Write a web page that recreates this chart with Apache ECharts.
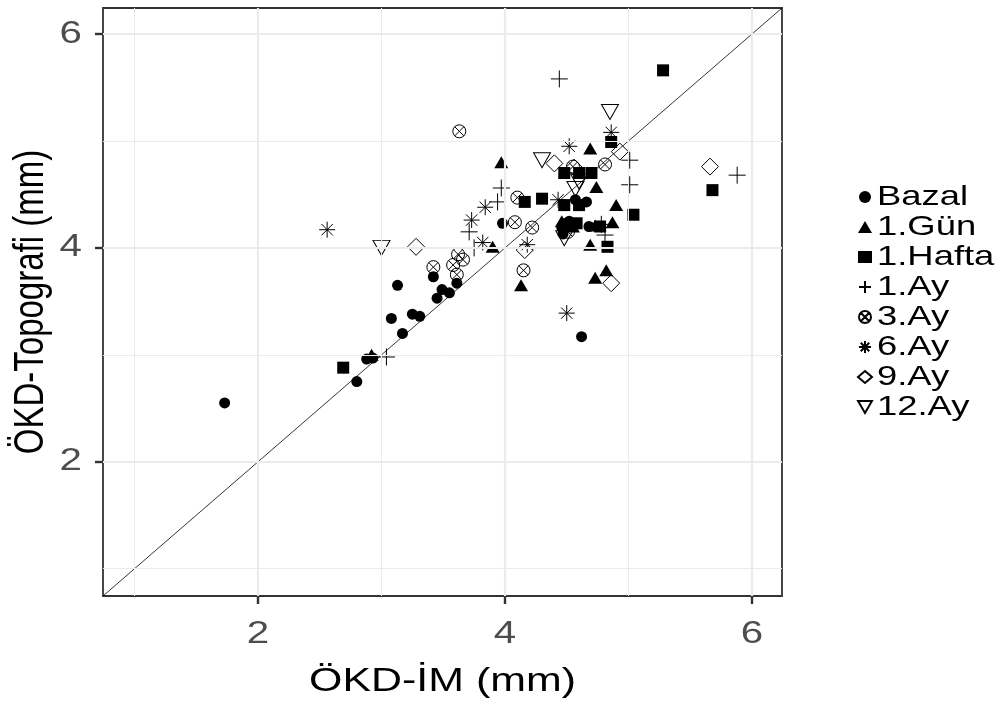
<!DOCTYPE html>
<html>
<head>
<meta charset="utf-8">
<script src="https://cdn.jsdelivr.net/npm/echarts@6/dist/echarts.min.js"></script>
<style>html,body{margin:0;padding:0;background:#fff;}#c{width:1003px;height:707px;}</style>
</head>
<body>
<div id="c"></div>
<script>
// Axis settings
const axisMin = 0.745;
const axisMax = 6.243;
const majorTicks = [2, 4, 6];
const minorTicks = [1, 3, 5];

// Series names
const groupNames = ['Bazal', '1.Gün', '1.Hafta', '1.Ay', '3.Ay', '6.Ay', '9.Ay', '12.Ay'];

// Data (x = ÖKD-İM, y = ÖKD-Topografi)
const bazalX = [1.73, 2.80, 2.88, 2.93, 3.08, 3.13, 3.17, 3.25, 3.31, 3.42, 3.45, 3.49, 3.55, 3.61, 3.98, 4.46, 4.47, 4.57, 4.66, 4.62, 4.52, 4.68];
const bazalY = [2.55, 2.75, 2.96, 2.97, 3.34, 3.65, 3.20, 3.38, 3.36, 3.73, 3.53, 3.61, 3.58, 3.67, 4.23, 4.19, 4.13, 4.45, 4.43, 3.17, 4.25, 4.20];

const gunX = [2.92, 3.90, 3.97, 4.13, 4.46, 4.69, 4.74, 4.90, 4.87, 4.73, 4.69, 4.82, 4.73, 4.55];
const gunY = [3.00, 4.01, 4.80, 3.65, 4.25, 4.93, 4.57, 4.40, 4.24, 4.21, 4.03, 3.79, 3.72, 4.20];

const haftaX = [2.69, 4.16, 4.30, 4.48, 4.60, 4.70, 4.86, 5.28, 5.68, 5.04, 4.48, 4.60, 4.58, 4.77, 4.83, 4.50];
const haftaY = [2.88, 4.43, 4.46, 4.70, 4.70, 4.70, 4.99, 5.66, 4.54, 4.31, 4.40, 4.40, 4.23, 4.20, 4.01, 4.22];

const ay1X = [3.04, 3.71, 3.75, 3.94, 3.97, 4.44, 5.01, 5.01, 4.81, 5.88, 4.78];
const ay1Y = [2.98, 4.15, 4.00, 4.43, 4.56, 5.58, 4.82, 4.59, 4.12, 4.68, 4.22];

const ay3X = [3.63, 3.42, 3.62, 3.66, 3.58, 3.61, 4.10, 4.08, 4.22, 4.15, 4.81, 4.55, 4.51];
const ay3Y = [5.09, 3.82, 3.94, 3.89, 3.84, 3.75, 4.47, 4.24, 4.19, 3.79, 4.78, 4.76, 4.15];

const ay6X = [2.56, 3.73, 3.84, 3.82, 4.18, 4.43, 4.52, 4.86, 4.50];
const ay6Y = [4.17, 4.26, 4.38, 4.05, 4.03, 4.45, 4.95, 5.08, 3.39];

const ay9X = [3.28, 4.16, 4.40, 4.93, 4.86, 5.66, 4.56];
const ay9Y = [4.01, 3.98, 4.79, 4.90, 3.67, 4.76, 4.75];

const ay12X = [3.00, 4.30, 4.57, 4.48, 4.85, 4.60];
const ay12Y = [4.00, 4.82, 4.55, 4.09, 5.27, 4.62];

const groupX = [bazalX, gunX, haftaX, ay1X, ay3X, ay6X, ay9X, ay12X];
const groupY = [bazalY, gunY, haftaY, ay1Y, ay3Y, ay6Y, ay9Y, ay12Y];

// Marker styles
const PLUS = 'path://M0,5L10,5M5,0L5,10';
const ASTER = 'path://M0,5L10,5M5,0L5,10M1.46,1.46L8.54,8.54M8.54,1.46L1.46,8.54';
const OTIMES = 'path://M10,5A5,5,0,1,1,0,5A5,5,0,1,1,10,5ZM1.46,1.46L8.54,8.54M8.54,1.46L1.46,8.54';
const TRIDOWN = 'path://M0,0L10,0L5,8.66Z';
const filled = { color: '#000', borderWidth: 0, opacity: 1 };
const hollow = { color: 'rgba(0,0,0,0)', borderColor: '#000', borderWidth: 1, opacity: 1 };
const markerDefs = [
  { symbol: 'circle', size: 11, style: filled },
  { symbol: 'triangle', size: [14, 12], style: filled },
  { symbol: 'rect', size: 12, style: filled },
  { symbol: PLUS, size: 17, style: hollow },
  { symbol: OTIMES, size: 13, style: hollow },
  { symbol: ASTER, size: 16, style: hollow },
  { symbol: 'diamond', size: 17, style: hollow },
  { symbol: TRIDOWN, size: [17, 15], style: hollow }
];

const FONT = "'Liberation Sans', Arial, sans-serif";
const TEXT_STRETCH = 1.3; // the reference text is horizontally wide

const series = [];
series.push({
  name: '_grid', type: 'line', data: [], silent: true, z: 1,
  markLine: {
    silent: true, symbol: ['none', 'none'], label: { show: false }, animation: false,
    data: [
      ...minorTicks.map(v => ({ xAxis: v, lineStyle: { color: '#ebebeb', width: 1, type: 'solid' } })),
      ...minorTicks.map(v => ({ yAxis: v, lineStyle: { color: '#ebebeb', width: 1, type: 'solid' } })),
      ...majorTicks.map(v => ({ xAxis: v, lineStyle: { color: '#ebebeb', width: 2.2, type: 'solid' } })),
      ...majorTicks.map(v => ({ yAxis: v, lineStyle: { color: '#ebebeb', width: 2.2, type: 'solid' } }))
    ]
  }
});
series.push({
  name: '_diag', type: 'line', z: 2, silent: true, symbol: 'none',
  data: [[axisMin, axisMin], [axisMax, axisMax]],
  lineStyle: { color: '#000', width: 0.8 }
});
groupNames.forEach((n, i) => {
  const m = markerDefs[i];
  series.push({
    name: n, type: 'scatter', z: 3,
    symbol: m.symbol, symbolSize: m.size,
    itemStyle: m.style,
    emphasis: { disabled: true },
    data: groupX[i].map((x, k) => [x, groupY[i][k]])
  });
});

const chart = echarts.init(document.getElementById('c'), null, { renderer: 'canvas' });
chart.setOption({
  animation: false,
  backgroundColor: '#fff',
  grid: { left: 103, top: 8, right: 221, bottom: 111, show: true, borderColor: '#333333', borderWidth: 1.8, backgroundColor: 'transparent' },
  xAxis: {
    type: 'value', min: axisMin, max: axisMax,
    name: 'ÖKD-İM (mm)', nameLocation: 'middle', nameGap: 86,
    nameTextStyle: { fontFamily: FONT, fontSize: 33, color: '#000', verticalAlign: 'middle' },
    axisLine: { show: false },
    axisTick: { show: true, customValues: majorTicks, length: 8, lineStyle: { color: '#333333', width: 2.4 } },
    axisLabel: { customValues: majorTicks, fontFamily: FONT, fontSize: 31, color: '#4d4d4d', margin: 23 },
    splitLine: { show: false }
  },
  yAxis: {
    type: 'value', min: axisMin, max: axisMax,
    name: 'ÖKD-Topografi (mm)', nameLocation: 'middle', nameGap: 72,
    nameTextStyle: { fontFamily: FONT, fontSize: 33, color: '#000', verticalAlign: 'middle' },
    axisLine: { show: false },
    axisTick: { show: true, customValues: majorTicks, length: 8, lineStyle: { color: '#333333', width: 2.4 } },
    axisLabel: { customValues: majorTicks, fontFamily: FONT, fontSize: 31, color: '#4d4d4d', margin: 21 },
    splitLine: { show: false }
  },
  legend: {
    data: groupNames, orient: 'vertical', left: 852, top: 178,
    itemWidth: 14, itemHeight: 12, itemGap: 2, itemTextGap: 6,
    textStyle: { fontFamily: FONT, fontSize: 28, color: '#000', lineHeight: 28 },
    selectedMode: false
  },
  series: series
});

// Widen every text horizontally on screen around its own anchor point
(function stretchTexts() {
  const zr = chart.getZr();
  zr.storage.traverse(function (el) {
    if (el.type !== 'text' || el.__wide) return;
    el.__wide = true;
    const st = el.style || {};
    el.originX = st.x || 0;
    el.originY = st.y || 0;
    const m = el.transform;
    const vertical = m ? Math.abs(m[1]) > Math.abs(m[0]) : false;
    if (vertical) el.scaleY = (el.scaleY || 1) * TEXT_STRETCH;
    else el.scaleX = (el.scaleX || 1) * TEXT_STRETCH;
    el.markRedraw();
  });
  zr.refreshImmediately();
})();
</script>
</body>
</html>
